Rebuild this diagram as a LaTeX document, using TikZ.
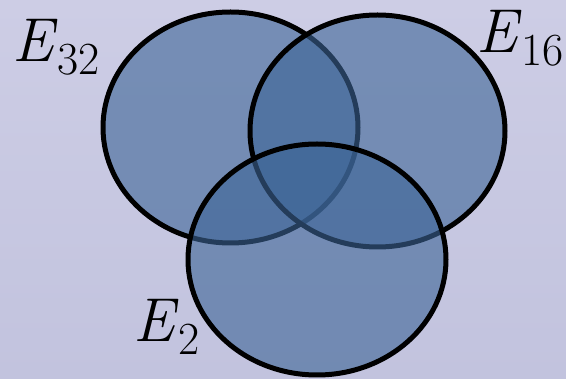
\documentclass[tikz,border=0pt]{standalone}
\usepackage{fontspec}
\usepackage{xcolor}
\usetikzlibrary{shapes.geometric}
\definecolor{bgtop}{HTML}{CDCDE5}
\definecolor{bgbottom}{HTML}{C2C3DE}
\definecolor{setfill}{HTML}{3C6496}
\definecolor{setborder}{HTML}{000000}

\begin{document}
\begin{tikzpicture}[
    x=1pt, y=-1pt,
    setshape/.style={
        ellipse, inner sep=0pt, line width=5pt,
        fill=setfill, fill opacity=0.6, draw=setborder, draw opacity=1
    },
    setlabel/.style={
        anchor=base west, inner sep=0pt, text=black,
        font=\fontsize{62pt}{62pt}\selectfont
    }
]

\newcommand{\setname}[1]{\textit{E}\raisebox{-13pt}{\fontsize{46pt}{46pt}\selectfont #1}}

% ==================== BACKGROUND ====================
\shade[top color=bgtop, bottom color=bgbottom] (0, 0) rectangle (566, 379);
\useasboundingbox (0, 0) rectangle (566, 379);

% ==================== SETS ====================
\node[setshape, minimum width=255pt, minimum height=231pt] (e32) at (230.5, 127.5) {};
\node[setshape, minimum width=255pt, minimum height=232pt] (e16) at (377.5, 131) {};
\node[setshape, minimum width=258pt, minimum height=231pt] (e2) at (317, 259.5) {};

% ==================== LABELS ====================
\node[setlabel] (l32) at (12, 62) {\setname{32}};
\node[setlabel] (l16) at (476, 53) {\setname{16}};
\node[setlabel] (l2) at (133, 342) {\setname{2}};

\end{tikzpicture}
\end{document}
